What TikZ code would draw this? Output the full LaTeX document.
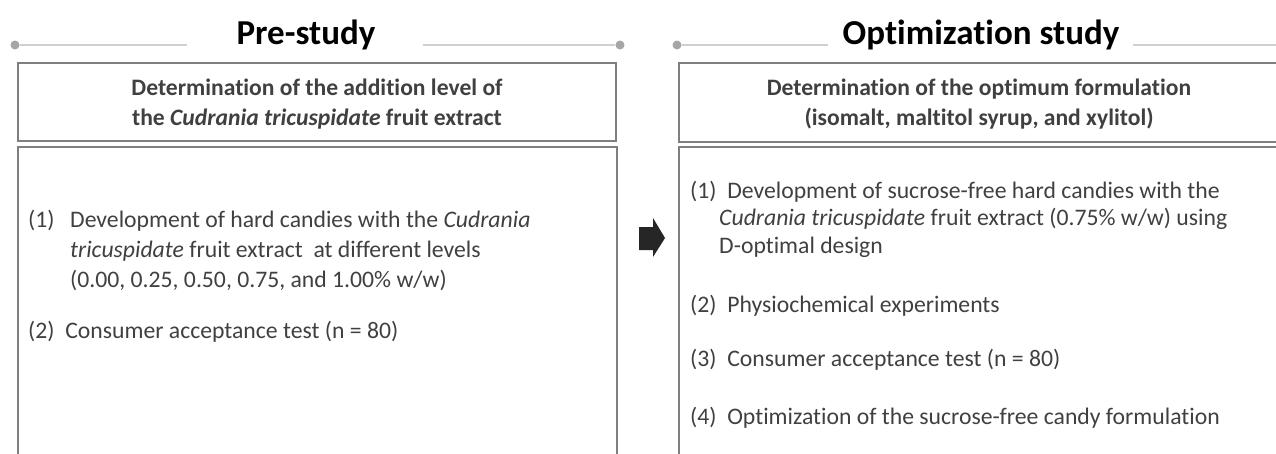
\documentclass[tikz,border=0pt]{standalone}
\usepackage{fontspec}
\setmainfont{Carlito}[Ligatures={NoCommon,NoContextual}]
\definecolor{txt}{HTML}{404040}
\definecolor{boxc}{HTML}{7F7F7F}
\definecolor{linec}{HTML}{D0D0D0}
\definecolor{dotc}{HTML}{A6A6A6}
\definecolor{arrc}{HTML}{262626}
\tikzset{
  titletext/.style={font=\fontsize{35}{42}\selectfont\bfseries, text=black, inner sep=0pt, anchor=base},
  headtext/.style={font=\fontsize{23.6}{28}\selectfont\bfseries, text=txt, inner sep=0pt, anchor=base},
  bodytext/.style={font=\fontsize{23.7}{28}\selectfont, text=txt, inner sep=0pt, anchor=base west},
  framebox/.style={draw=boxc, line width=1.6pt},
  rule/.style={draw=linec, line width=1.5pt},
  dot/.style={circle, fill=dotc, inner sep=0pt, minimum size=9pt},
  blockarrow/.style={fill=arrc, draw=none},
}
\begin{document}
\begin{tikzpicture}[x=1pt, y=-1pt]
\useasboundingbox (0,0) rectangle (1276,453);
% ---------- Pre-study ----------
\node[titletext] (t1) at (306,44) {Pre-study};
\node[dot] (d1) at (15,45) {};
\node[dot] (d2) at (620,45) {};
\coordinate (l1e) at (187,45);
\coordinate (l2s) at (423,45);
\draw[rule] (d1) -- (l1e);
\draw[rule] (l2s) -- (d2);
\draw[framebox] (18,63) rectangle (616,141);
\draw[framebox] (18,147) rectangle (617,470);
\node[headtext] (h1a) at (317,95) {Determination of the addition level of};
\node[headtext] (h1b) at (317,125) {the \textit{Cudrania tricuspidate} fruit extract};
\node[bodytext] (p1n) at (28,227) {(1)};
\node[bodytext] (p1a) at (70,227) {Development of hard candies with the \textit{Cudrania}};
\node[bodytext] (p1b) at (70,257) {\textit{tricuspidate} fruit extract\ \ at different levels};
\node[bodytext] (p1c) at (70,287) {(0.00, 0.25, 0.50, 0.75, and 1.00\% w/w)};
\node[bodytext] (p2) at (28,338) {(2)\ \ Consumer acceptance test (n = 80)};
% ---------- arrow ----------
\fill[blockarrow] (639,227) -- (653,227) -- (653,218) -- (665,238) -- (653,257)
  -- (653,250) -- (639,250) -- cycle;
% ---------- Optimization study ----------
\node[titletext] (t2) at (981,44) {Optimization study};
\node[dot] (d3) at (677,45) {};
\coordinate (l3e) at (828,45);
\coordinate (l4s) at (1133,45);
\coordinate (l4e) at (1280,45);
\draw[rule] (d3) -- (l3e);
\draw[rule] (l4s) -- (l4e);
\draw[framebox] (679,63) rectangle (1290,142);
\draw[framebox] (679,147) rectangle (1290,470);
\node[headtext] (h2a) at (979,95) {Determination of the optimum formulation};
\node[headtext] (h2b) at (979,125) {(isomalt, maltitol syrup, and xylitol)};
\node[bodytext] (q1n) at (690,198) {(1)\ \ Development of sucrose-free hard candies with the};
\node[bodytext] (q1b) at (719,225) {\textit{Cudrania tricuspidate} fruit extract (0.75\% w/w) using};
\node[bodytext] (q1c) at (719,253) {D-optimal design};
\node[bodytext] (q2) at (690,312) {(2)\ \ Physiochemical experiments};
\node[bodytext] (q3) at (690,366) {(3)\ \ Consumer acceptance test (n = 80)};
\node[bodytext] (q4) at (690,424) {(4)\ \ Optimization of the sucrose-free candy formulation};
\end{tikzpicture}
\end{document}
